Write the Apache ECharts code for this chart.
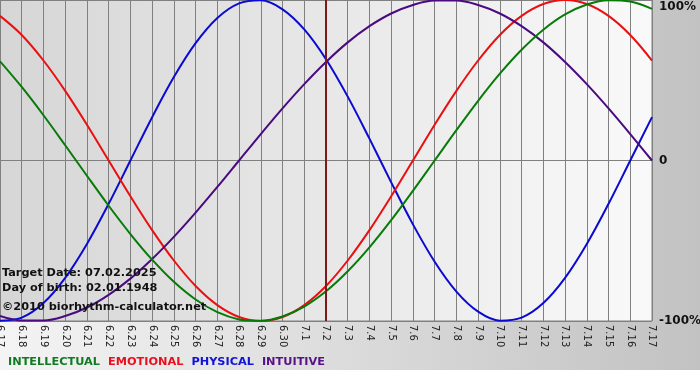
<!DOCTYPE html>
<html>
<head>
<meta charset="utf-8">
<script src="https://cdn.jsdelivr.net/npm/echarts@6/dist/echarts.min.js"></script>
<style>
html,body{margin:0;padding:0;background:#fff;}
#chart{width:700px;height:380px;}
</style>
</head>
<body>
<div id="chart"></div>
<script>
var days = ['6.17','6.18','6.19','6.20','6.21','6.22','6.23','6.24','6.25','6.26','6.27','6.28','6.29','6.30',
  '7.1','7.2','7.3','7.4','7.5','7.6','7.7','7.8','7.9','7.10','7.11','7.12','7.13','7.14','7.15','7.16','7.17'];
var intellectual = [61.8,45.8,28.2,9.5,-9.5,-28.2,-45.8,-61.8,-75.6,-86.6,-94.5,-99.0,-99.9,-97.2,-91.0,-81.5,-69.0,-54.1,-37.2,-18.9,0,18.9,37.2,54.1,69.0,81.5,91.0,97.2,99.9,99.0,94.5];
var emotional = [90.1,78.2,62.3,43.4,22.3,0,-22.3,-43.4,-62.3,-78.2,-90.1,-97.5,-100,-97.5,-90.1,-78.2,-62.3,-43.4,-22.3,0,22.3,43.4,62.3,78.2,90.1,97.5,100,97.5,90.1,78.2,62.3];
var physical = [-99.8,-97.9,-88.8,-73.1,-52.0,-27.0,0,27.0,52.0,73.1,88.8,97.9,99.8,94.2,81.7,63.1,39.8,13.6,-13.6,-39.8,-63.1,-81.7,-94.2,-99.8,-97.9,-88.8,-73.1,-52.0,-27.0,0,27.0];
var intuitive = [-96.9,-99.7,-99.7,-96.9,-91.6,-83.7,-73.6,-61.4,-47.6,-32.5,-16.5,0,16.5,32.5,47.6,61.4,73.6,83.7,91.6,96.9,99.7,99.7,96.9,91.6,83.7,73.6,61.4,47.6,32.5,16.5,0];
var yTicks = {'100':'100%','0':'0','-100':'-100%'};
var targetDay = '7.2';
var infoLines = ['Target Date: 07.02.2025','Day of birth: 02.01.1948','\u00a92010 biorhythm-calculator.net'];

var chart = echarts.init(document.getElementById('chart'), null, {renderer:'canvas'});
var FONT = 'DejaVu Sans';
function lineSeries(name, data, color, z){
  return {name:name, type:'line', data:data, smooth:0.35, symbol:'none', z:z,
    lineStyle:{color:color, width:2}, itemStyle:{color:color}, silent:true};
}
var phys = lineSeries('PHYSICAL', physical, '#0a0ad0', 3);
phys.markLine = {silent:true, symbol:'none', label:{show:false},
  lineStyle:{color:'#7a1a1a', width:2, type:'solid'}, data:[{xAxis:targetDay}]};

var labelFont = {fontSize:12, fontWeight:'bold', color:'#111', fontFamily:FONT};
chart.setOption({
  animation:false,
  backgroundColor: new echarts.graphic.LinearGradient(0,0,1,0,[{offset:0,color:'#f4f4f4'},{offset:1,color:'#c2c2c2'}]),
  textStyle:{fontFamily:FONT},
  grid:{left:0, right:48, top:0, bottom:59, show:true, borderColor:'#808080', borderWidth:1,
    outerBoundsMode:'none', containLabel:false,
    backgroundColor: new echarts.graphic.LinearGradient(0,0,1,0,[{offset:0,color:'#d6d6d6'},{offset:1,color:'#f9f9f9'}])},
  legend:{left:3, top:357, itemWidth:0, itemHeight:0, itemGap:3, icon:'none', selectedMode:false, padding:0,
    textStyle:{fontFamily:FONT, fontSize:11.3, fontWeight:'bold'},
    data:[
      {name:'INTELLECTUAL', textStyle:{color:'#117a22'}},
      {name:'EMOTIONAL', textStyle:{color:'#e8101e'}},
      {name:'PHYSICAL', textStyle:{color:'#1212d8'}},
      {name:'INTUITIVE', textStyle:{color:'#561286'}}
    ]},
  xAxis:{type:'category', data:days, boundaryGap:false,
    axisLine:{show:true, lineStyle:{color:'#808080'}},
    axisTick:{show:true, length:4, lineStyle:{color:'#808080'}, interval:0},
    axisLabel:{interval:0, rotate:-90, fontSize:10, color:'#222', margin:4, fontFamily:FONT},
    splitLine:{show:true, interval:0, lineStyle:{color:'#808080', width:1}}},
  yAxis:{type:'value', position:'right', min:-100, max:100, interval:100,
    axisLine:{show:false}, axisTick:{show:false},
    axisLabel:{margin:7, fontSize:12, fontWeight:'bold', color:'#111', fontFamily:FONT,
      formatter:function(v){ return v === 100 ? '{top|' + yTicks[String(v)] + '}' : yTicks[String(v)]; },
      rich:{top:Object.assign({padding:[14,0,0,0]}, labelFont)}},
    splitLine:{show:true, lineStyle:{color:'#808080', width:1}}},
  graphic:[
    {type:'rect', left:0, top:370, shape:{width:700, height:10}, style:{fill:'#ffffff'}, z:-1, silent:true},
    {type:'text', left:2, top:268, z:100, style:{text:infoLines[0], font:'bold 11.3px DejaVu Sans', fill:'#111'}},
    {type:'text', left:2, top:283, z:100, style:{text:infoLines[1], font:'bold 11.3px DejaVu Sans', fill:'#111'}},
    {type:'text', left:2, top:302, z:100, style:{text:infoLines[2], font:'bold 11.3px DejaVu Sans', fill:'#111'}}
  ],
  series:[
    phys,
    lineSeries('EMOTIONAL', emotional, '#e81010', 3),
    lineSeries('INTUITIVE', intuitive, '#4a0a80', 3),
    lineSeries('INTELLECTUAL', intellectual, '#087a08', 3)
  ]
});
</script>
</body>
</html>
